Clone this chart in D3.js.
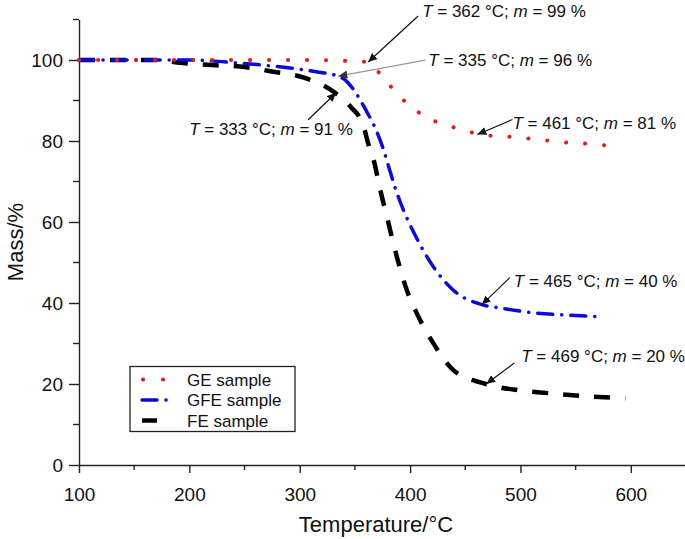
<!DOCTYPE html>
<html>
<head>
<meta charset="utf-8">
<script src="https://cdn.jsdelivr.net/npm/d3@7"></script>
<style>
  html, body { margin: 0; padding: 0; background: #fff; }
  svg { display: block; font-family: "Liberation Sans", Arial, Helvetica, sans-serif; }
</style>
</head>
<body>
<svg id="chart" width="685" height="539"></svg>
<script>
// ---- data ----
const geTemp = [100, 150, 200, 250, 300, 340, 362, 375, 391, 407, 424, 442, 461, 477, 495, 511, 528, 546, 563, 581];
const geMass = [100, 100, 100, 100, 100, 99.8, 99.5, 95.8, 90.9, 87.2, 84.7, 83.2, 81.8, 81.2, 81, 80.5, 80, 79.5, 79.3, 78.8];

const gfeTemp = [100, 150, 200, 246, 279, 315, 335, 343, 350, 360, 370, 376, 381, 386, 391, 406, 421, 439, 465, 481, 511, 542, 575];
const gfeMass = [100, 100, 100, 99.2, 98.4, 97.1, 96, 94.6, 92.2, 87.6, 82.2, 77.8, 73.3, 68.8, 65, 56, 49, 43.2, 39.6, 38.8, 37.6, 37, 36.6];

const feTemp = [100, 150, 170, 192, 216, 246, 276, 303, 332, 346, 358, 362, 367, 373, 379, 388, 397, 406, 421, 439, 466, 497, 527, 557, 595];
const feMass = [100, 100, 100, 99.3, 98.8, 98.4, 97.1, 95.7, 91.9, 88.5, 83.5, 79.4, 75.3, 67.9, 61.3, 51.4, 43.2, 37.5, 30.1, 23.5, 20.2, 18.5, 17.7, 17.0, 16.5];

const xMajorTicks = [100, 200, 300, 400, 500, 600];
const xMinorTicks = [150, 250, 350, 450, 550, 650];
const yMajorTicks = [0, 20, 40, 60, 80, 100];
const yMinorTicks = [10, 30, 50, 70, 90, 110];

const seriesNames = ["GE sample", "GFE sample", "FE sample"];
const seriesColors = ["#e41a1c", "#0b0bd6", "#000000"];

// annotations: [temp, mass, label T, label m]
const annTemp = [362, 335, 461, 333, 465, 469];
const annMass = [99.5, 96, 81.6, 91.9, 39.6, 20.0];
const annLabelT = ["362", "335", "461", "333", "465", "469"];
const annLabelM = ["99", "96", "81", "91", "40", "20"];

// ---- layout ----
const svg = d3.select("#chart");
const x = d3.scaleLinear().domain([100, 650]).range([79, 686]);
const y = d3.scaleLinear().domain([0, 110]).range([465, 19.5]);

const axisColor = "#222";

// axes
const gx = svg.append("g").attr("transform", `translate(0,${y(0)})`)
  .call(d3.axisBottom(x).tickValues(xMajorTicks).tickSize(8).tickSizeOuter(0).tickFormat(d3.format("d")));
gx.append("g").selectAll("line").data(xMinorTicks).join("line")
  .attr("x1", d => x(d)).attr("x2", d => x(d)).attr("y1", 0).attr("y2", 5);

const gy = svg.append("g").attr("transform", `translate(${x(100)},0)`)
  .call(d3.axisLeft(y).tickValues(yMajorTicks).tickSize(10).tickSizeOuter(0).tickFormat(d3.format("d")));
gy.append("g").selectAll("line").data(yMinorTicks).join("line")
  .attr("y1", d => y(d)).attr("y2", d => y(d)).attr("x1", 0).attr("x2", -6);

[gx, gy].forEach(g => {
  g.selectAll("path.domain").attr("stroke", axisColor).attr("stroke-width", 1.4);
  g.selectAll("line").attr("stroke", axisColor).attr("stroke-width", 1.4);
  g.selectAll("text").attr("fill", "#111").style("font-size", "19px").style("font-family", "Liberation Sans, Arial, sans-serif");
});
gx.selectAll(".tick text").attr("dy", "0").attr("y", 36);
gy.selectAll(".tick text").attr("x", -16).attr("dy", "0.35em");

// axis titles
svg.append("text").attr("x", 376).attr("y", 532).attr("text-anchor", "middle")
  .style("font-size", "22px").attr("fill", "#111").text("Temperature/°C");
svg.append("text").attr("transform", `translate(23,242) rotate(-90)`).attr("text-anchor", "middle")
  .style("font-size", "22px").attr("fill", "#111").text("Mass/%");

// curves
const line = d3.line().x(d => x(d[0])).y(d => y(d[1])).curve(d3.curveMonotoneX);
const styles = [
  { width: 4, dash: "0.1,18.9", cap: "round" },
  { width: 3.5, dash: "15,9,0.1,9", cap: "round" },
  { width: 4.5, dash: "16,15", cap: "butt" }
];
const seriesData = [
  d3.zip(geTemp, geMass),
  d3.zip(gfeTemp, gfeMass),
  d3.zip(feTemp, feMass)
];
// draw FE first, then GFE, then GE on top
[2, 1, 0].forEach(i => {
  svg.append("path").datum(seriesData[i])
    .attr("d", line).attr("fill", "none")
    .attr("stroke", seriesColors[i]).attr("stroke-width", styles[i].width)
    .attr("stroke-dasharray", styles[i].dash).attr("stroke-linecap", styles[i].cap);
});

// legend
const lg = svg.append("g");
lg.append("rect").attr("x", 130).attr("y", 366.5).attr("width", 165).attr("height", 65)
  .attr("fill", "#fff").attr("stroke", "#222").attr("stroke-width", 1.3);
seriesNames.forEach((n, i) => {
  const yy = 379.5 + i * 20.5;
  lg.append("line").attr("x1", i === 0 ? 143 : 142).attr("x2", i === 0 ? 172 : (i === 1 ? 172 : 157))
    .attr("y1", yy).attr("y2", yy)
    .attr("stroke", seriesColors[i]).attr("stroke-width", styles[i].width)
    .attr("stroke-dasharray", i === 0 ? "0.1,19.9" : (i === 1 ? "15,9,0.1,9" : "none"))
    .attr("stroke-linecap", styles[i].cap);
  lg.append("text").attr("x", 187).attr("y", yy + 6).style("font-size", "17px").attr("fill", "#111").text(n);
});

// annotations
const defs = svg.append("defs");
function marker(id, color) {
  defs.append("marker").attr("id", id).attr("viewBox", "0 0 10 10").attr("refX", 10).attr("refY", 5)
    .attr("markerWidth", 9).attr("markerHeight", 9).attr("markerUnits", "userSpaceOnUse").attr("orient", "auto")
    .append("path").attr("d", "M0,0.5 L10,5 L0,9.5 Z").attr("fill", color);
}
marker("arrBlack", "#111");
marker("arrGrey", "#333");

// label anchor (text start x, baseline y) and arrow start offsets, in pixels relative to the tip
const annTextDx = [54, 90, 35, -147, 32, 35];
const annTextDy = [-45, -10, -6, 42, -18, -22];
const annArrowDx = [50, 87, 35, -28, 28, 28];
const annArrowDy = [-46, -16, -15, 27, -27, -21];
annTemp.forEach((t, i) => {
  const tx = x(t), ty = y(annMass[i]);
  const grey = i === 1;
  svg.append("line").attr("x1", tx + annArrowDx[i]).attr("y1", ty + annArrowDy[i])
    .attr("x2", tx).attr("y2", ty)
    .attr("stroke", grey ? "#9a9a9a" : "#111").attr("stroke-width", grey ? 1.3 : 1.2)
    .attr("marker-end", grey ? "url(#arrGrey)" : "url(#arrBlack)");
  const txt = svg.append("text").attr("x", tx + annTextDx[i]).attr("y", ty + annTextDy[i])
    .style("font-size", "17px").attr("fill", "#111");
  txt.append("tspan").style("font-style", "italic").text("T");
  txt.append("tspan").text(` = ${annLabelT[i]} °C; `);
  txt.append("tspan").style("font-style", "italic").text("m");
  txt.append("tspan").text(` = ${annLabelM[i]} %`);
});
</script>
</body>
</html>
